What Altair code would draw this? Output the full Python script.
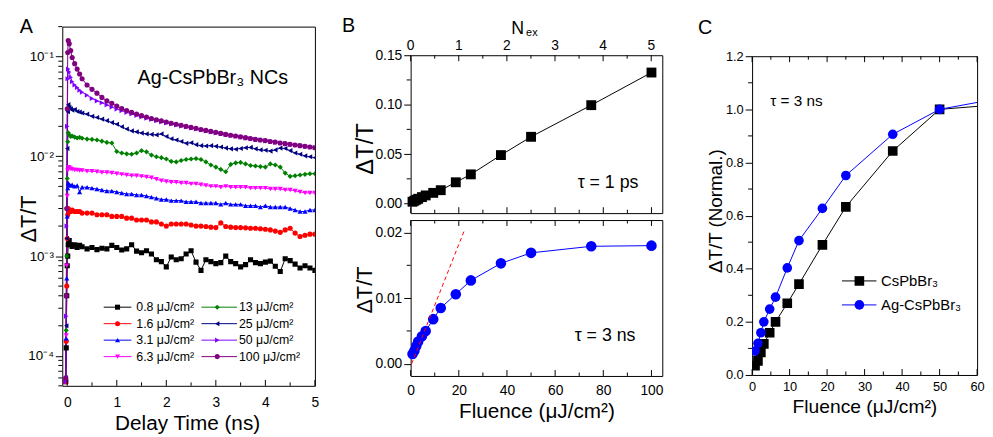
import altair as alt
import pandas as pd

FONT = "Liberation Sans"

# ---------------- Panel A data: transient decays ----------------
t_ns = [-0.03, -0.02, -0.01, 0.0, 0.01, 0.02, 0.04, 0.07, 0.1, 0.15, 0.2, 0.25, 0.3,
        0.4, 0.5, 0.6, 0.7, 0.8, 0.9,
        1.0, 1.1, 1.2, 1.3, 1.4, 1.5, 1.6, 1.7, 1.8, 1.9,
        2.0, 2.1, 2.2, 2.3, 2.4, 2.5, 2.6, 2.7, 2.8, 2.9,
        3.0, 3.1, 3.2, 3.3, 3.4, 3.5, 3.6, 3.7, 3.8, 3.9,
        4.0, 4.1, 4.2, 4.3, 4.4, 4.5, 4.6, 4.7, 4.8, 4.9,
        5.0]

a_0p8 = [5.5e-5, 1.2e-4, 4.0e-4, 8.0e-4, 1.0e-3, 1.30e-3, 1.43e-3, 1.30e-3, 1.25e-3, 1.30e-3, 1.22e-3, 1.28e-3, 1.24e-3,
         1.18e-3, 1.22e-3, 1.16e-3, 1.20e-3, 1.18e-3, 1.28e-3,
         1.22e-3, 1.15e-3, 1.18e-3, 1.30e-3, 1.12e-3, 1.08e-3, 1.13e-3, 1.05e-3, 9.2e-4, 8.8e-4,
         7.8e-4, 9.8e-4, 9.2e-4, 9.4e-4, 1.05e-3, 1.13e-3, 8.7e-4, 7.2e-4, 9.2e-4, 8.8e-4,
         8.4e-4, 8.6e-4, 1.0e-3, 8.8e-4, 8.4e-4, 7.8e-4, 8.2e-4, 9.2e-4, 8.6e-4, 8.4e-4,
         8.7e-4, 8.9e-4, 7.9e-4, 7.0e-4, 9.4e-4, 9.0e-4, 8.3e-4, 7.6e-4, 8.0e-4, 7.6e-4,
         7.2e-4]
a_1p6 = [5.5e-5, 1.4e-4, 5.0e-4, 1.5e-3, 2.6e-3, 3.0e-3, 2.9e-3, 2.8e-3, 2.9e-3, 2.8e-3, 2.8e-3, 2.8e-3, 2.7e-3,
         2.7e-3, 2.7e-3, 2.6e-3, 2.6e-3, 2.6e-3, 2.5e-3,
         2.5e-3, 2.5e-3, 2.4e-3, 2.4e-3, 2.3e-3, 2.3e-3, 2.3e-3, 2.2e-3, 2.2e-3, 2.1e-3,
         2.0e-3, 2.1e-3, 2.1e-3, 2.1e-3, 2.1e-3, 2.05e-3, 2.0e-3, 2.0e-3, 1.98e-3, 1.95e-3,
         1.93e-3, 2.15e-3, 1.98e-3, 1.95e-3, 1.93e-3, 1.93e-3, 1.92e-3, 1.90e-3, 1.90e-3, 1.88e-3,
         1.86e-3, 1.83e-3, 1.78e-3, 1.73e-3, 1.83e-3, 1.90e-3, 1.70e-3, 1.57e-3, 1.62e-3, 1.66e-3,
         1.66e-3]
a_3p1 = [6.0e-5, 1.5e-4, 6.0e-4, 2.5e-3, 4.8e-3, 5.4e-3, 5.2e-3, 5.1e-3, 5.2e-3, 5.0e-3, 5.1e-3, 4.4e-3, 4.9e-3,
         4.9e-3, 4.8e-3, 4.7e-3, 4.6e-3, 4.5e-3, 4.5e-3,
         4.4e-3, 4.3e-3, 4.2e-3, 4.2e-3, 4.1e-3, 4.1e-3, 4.0e-3, 3.9e-3, 3.8e-3, 3.7e-3,
         3.7e-3, 3.6e-3, 3.6e-3, 3.6e-3, 3.5e-3, 3.5e-3, 3.5e-3, 3.4e-3, 3.4e-3, 3.4e-3,
         3.4e-3, 3.3e-3, 3.4e-3, 3.3e-3, 3.3e-3, 3.3e-3, 3.2e-3, 3.2e-3, 3.2e-3, 3.1e-3,
         3.2e-3, 3.1e-3, 3.1e-3, 3.1e-3, 3.1e-3, 3.0e-3, 2.9e-3, 2.8e-3, 2.8e-3, 2.9e-3,
         2.9e-3]
a_6p3 = [5.5e-5, 1.6e-4, 8.0e-4, 4.0e-3, 7.2e-3, 7.8e-3, 7.7e-3, 7.5e-3, 7.4e-3, 7.3e-3, 7.3e-3, 7.2e-3, 7.2e-3,
         7.1e-3, 7.1e-3, 7.0e-3, 6.9e-3, 6.9e-3, 6.8e-3,
         6.7e-3, 6.6e-3, 6.5e-3, 6.4e-3, 6.4e-3, 6.3e-3, 6.2e-3, 6.1e-3, 5.9e-3, 5.7e-3,
         5.6e-3, 5.5e-3, 5.5e-3, 5.4e-3, 5.4e-3, 5.3e-3, 5.3e-3, 5.2e-3, 5.1e-3, 5.0e-3,
         5.0e-3, 4.9e-3, 5.0e-3, 4.9e-3, 4.9e-3, 4.9e-3, 4.9e-3, 4.8e-3, 4.8e-3, 4.8e-3,
         4.8e-3, 4.7e-3, 4.7e-3, 4.7e-3, 4.6e-3, 4.6e-3, 4.5e-3, 4.4e-3, 4.3e-3, 4.3e-3,
         4.3e-3]
a_13 = [6.0e-5, 1.8e-4, 1.0e-3, 6.0e-3, 1.4e-2, 1.72e-2, 1.65e-2, 1.58e-2, 1.60e-2, 1.56e-2, 1.53e-2, 1.55e-2, 1.52e-2,
        1.49e-2, 1.48e-2, 1.46e-2, 1.42e-2, 1.38e-2, 1.36e-2,
        1.12e-2, 1.08e-2, 1.06e-2, 1.05e-2, 1.08e-2, 1.14e-2, 1.11e-2, 1.03e-2, 9.9e-3, 9.7e-3,
        9.4e-3, 8.9e-3, 8.8e-3, 9.1e-3, 9.3e-3, 9.4e-3, 9.5e-3, 9.3e-3, 8.8e-3, 8.2e-3,
        7.8e-3, 7.4e-3, 7.0e-3, 8.3e-3, 8.6e-3, 8.7e-3, 8.4e-3, 8.1e-3, 8.0e-3, 7.9e-3,
        7.8e-3, 8.4e-3, 8.2e-3, 7.8e-3, 6.8e-3, 6.3e-3, 6.4e-3, 6.5e-3, 6.6e-3, 6.7e-3,
        6.7e-3]
a_25 = [6.0e-5, 2.0e-4, 1.5e-3, 1.2e-2, 2.8e-2, 3.3e-2, 3.1e-2, 3.0e-2, 2.9e-2, 2.95e-2, 2.82e-2, 2.78e-2, 2.72e-2,
        2.65e-2, 2.52e-2, 2.45e-2, 2.36e-2, 2.28e-2, 2.18e-2,
        2.10e-2, 1.98e-2, 1.88e-2, 1.80e-2, 1.76e-2, 1.71e-2, 1.68e-2, 1.66e-2, 1.64e-2, 1.68e-2,
        1.58e-2, 1.50e-2, 1.46e-2, 1.41e-2, 1.35e-2, 1.37e-2, 1.31e-2, 1.28e-2, 1.27e-2, 1.28e-2,
        1.26e-2, 1.24e-2, 1.21e-2, 1.19e-2, 1.18e-2, 1.20e-2, 1.22e-2, 1.23e-2, 1.19e-2, 1.16e-2,
        1.15e-2, 1.13e-2, 1.16e-2, 1.21e-2, 1.20e-2, 1.14e-2, 1.08e-2, 1.05e-2, 1.01e-2, 9.9e-3,
        9.7e-3]
a_50 = [5.5e-5, 2.5e-4, 2.0e-3, 2.0e-2, 6.0e-2, 7.5e-2, 7.0e-2, 6.2e-2, 5.6e-2, 5.2e-2, 4.9e-2, 4.6e-2, 4.4e-2,
        4.1e-2, 3.8e-2, 3.6e-2, 3.45e-2, 3.28e-2, 3.12e-2,
        2.98e-2, 2.87e-2, 2.76e-2, 2.66e-2, 2.57e-2, 2.49e-2, 2.41e-2, 2.34e-2, 2.28e-2, 2.22e-2,
        2.16e-2, 2.11e-2, 2.06e-2, 2.01e-2, 1.97e-2, 1.93e-2, 1.88e-2, 1.84e-2, 1.80e-2, 1.76e-2,
        1.72e-2, 1.69e-2, 1.66e-2, 1.62e-2, 1.59e-2, 1.56e-2, 1.53e-2, 1.51e-2, 1.48e-2, 1.46e-2,
        1.43e-2, 1.41e-2, 1.38e-2, 1.36e-2, 1.34e-2, 1.32e-2, 1.30e-2, 1.28e-2, 1.26e-2, 1.24e-2,
        1.23e-2]
a_100 = [6.0e-5, 4.0e-4, 3.0e-3, 3.0e-2, 1.1e-1, 1.45e-1, 1.35e-1, 1.15e-1, 9.8e-2, 8.5e-2, 7.5e-2, 6.7e-2, 6.0e-2,
         5.2e-2, 4.7e-2, 4.3e-2, 3.9e-2, 3.6e-2, 3.4e-2,
         3.2e-2, 3.02e-2, 2.88e-2, 2.76e-2, 2.66e-2, 2.56e-2, 2.48e-2, 2.40e-2, 2.33e-2, 2.27e-2,
         2.21e-2, 2.15e-2, 2.10e-2, 2.05e-2, 2.00e-2, 1.95e-2, 1.91e-2, 1.86e-2, 1.82e-2, 1.78e-2,
         1.74e-2, 1.70e-2, 1.66e-2, 1.63e-2, 1.60e-2, 1.57e-2, 1.54e-2, 1.51e-2, 1.48e-2, 1.46e-2,
         1.44e-2, 1.41e-2, 1.39e-2, 1.36e-2, 1.34e-2, 1.32e-2, 1.30e-2, 1.28e-2, 1.26e-2, 1.24e-2,
         1.22e-2]

series_labels = ["0.8 μJ/cm²", "1.6 μJ/cm²", "3.1 μJ/cm²", "6.3 μJ/cm²",
                 "13 μJ/cm²", "25 μJ/cm²", "50 μJ/cm²", "100 μJ/cm²"]
series_values = [a_0p8, a_1p6, a_3p1, a_6p3, a_13, a_25, a_50, a_100]
series_colors = ["#000000", "#FF0000", "#0000FF", "#FF00FF", "#008000", "#000080", "#8000FF", "#800080"]
series_shapes = ["square", "circle", "triangle-up", "triangle-down", "diamond",
                 "triangle-left", "triangle-right", "circle"]

# ---------------- Panel B data ----------------
fluence = [0.78, 1.56, 2.34, 3.13, 4.69, 6.25, 9.38, 12.5, 18.75, 25.0, 37.5, 50.0, 75.0, 100.0]
dT_1ps = [0.0018, 0.0028, 0.0038, 0.0048, 0.0065, 0.0082, 0.0108, 0.0135, 0.0215, 0.0295,
          0.049, 0.0675, 0.0995, 0.1325]
dT_3ns = [0.0015, 0.0020, 0.0027, 0.0034, 0.0042, 0.0050, 0.0068, 0.0085, 0.0106, 0.0127,
          0.0153, 0.0169, 0.0179, 0.0180]
fit_x = [0.4, 22.5]
fit_y = [0.0, 0.0205]
nex_ticks = [0, 1, 2, 3, 4, 5]

# ---------------- Panel C data ----------------
fluence_c = [0.78, 1.56, 2.34, 3.13, 4.69, 6.25, 9.38, 12.5, 18.75, 25.0, 37.5, 50.0, 75.0]
norm_cspbbr3 = [0.035, 0.053, 0.085, 0.117, 0.159, 0.200, 0.270, 0.342, 0.490, 0.633, 0.843, 1.000, 1.028]
norm_ag = [0.090, 0.119, 0.159, 0.200, 0.248, 0.293, 0.403, 0.506, 0.627, 0.751, 0.906, 1.000, 1.065]
c_labels = ["CsPbBr₃", "Ag-CsPbBr₃"]
c_colors = ["#000000", "#0000FF"]
c_shapes = ["square", "circle"]

# ---------------- layout constants ----------------
WA, HA = 256, 364
WB, HBU, HBL = 255, 160, 158
WC, HC = 228, 323
FL_MAX, NEX_MAX = 104.5, 5.23
MAJ, MIN = 6, 3.5


def steps(lo, hi, step, nd=6):
    n = int(round((hi - lo) / step))
    return [round(lo + i * step, nd) for i in range(n + 1)]


def left_axis(values, size, fmt=None, label_expr=None):
    kw = dict(values=values, tickSize=MAJ + 1, labelFont=FONT, labelFontSize=size,
              labelColor="black", tickColor="black", tickWidth=1, domain=False, grid=False,
              title=None, labelPadding=2, labelFlush=False, labelOverlap=False)
    if fmt:
        kw["format"] = fmt
    if label_expr:
        kw["labelExpr"] = label_expr
    return alt.Axis(**kw)


def bottom_axis(values, size, pad):
    return alt.Axis(values=values, format="d", ticks=False, labelFont=FONT, labelFontSize=size,
                    labelColor="black", domain=False, grid=False, title=None, labelPadding=pad,
                    labelFlush=False, labelOverlap=False)


def txt(text, x, y, size, angle=0, align="center", baseline="middle"):
    kw = dict(font=FONT, fontSize=size, color="black", align=align, baseline=baseline)
    if angle:
        kw["angle"] = angle
    return alt.Chart(pd.DataFrame({"t": [text]})).mark_text(**kw).encode(
        x=alt.value(x), y=alt.value(y), text="t:N")


def xticks(scale, axis, vals, y0, y1):
    return alt.Chart(pd.DataFrame({"v": vals})).mark_rule(color="black", strokeWidth=1).encode(
        x=alt.X("v:Q", scale=scale, axis=axis), y=alt.value(y0), y2=alt.value(y1))


def yticks(scale, axis, vals, x0, x1):
    return alt.Chart(pd.DataFrame({"v": vals})).mark_rule(color="black", strokeWidth=1).encode(
        y=alt.Y("v:Q", scale=scale, axis=axis), x=alt.value(x0), x2=alt.value(x1))


def bbox(x0, x1, y):
    # invisible rule that fixes the outer bounds of a column in the layout
    return alt.Chart(pd.DataFrame({"a": [0]})).mark_rule(strokeOpacity=0, strokeWidth=1).encode(
        x=alt.value(x0), x2=alt.value(x1), y=alt.value(y))


def spacer(w, h):
    return alt.Chart(pd.DataFrame({"a": [0]})).mark_point(opacity=0).encode(
        x=alt.value(0), y=alt.value(0)).properties(
        width=w, height=h, view=alt.ViewBackground(stroke="transparent", strokeWidth=0))


def legend_entry(label, color, shape, x0, x1, mx, tx, y, msize, fsize):
    one = pd.DataFrame({"a": [0]})
    return [
        alt.Chart(one).mark_rule(color=color, strokeWidth=1).encode(
            x=alt.value(x0), x2=alt.value(x1), y=alt.value(y)),
        alt.Chart(one).mark_point(shape=shape, filled=True, size=msize, color=color,
                                  opacity=1).encode(x=alt.value(mx), y=alt.value(y)),
        txt(label, tx, y, fsize, align="left"),
    ]


# ================= Panel A =================
rows = []
for lab, vals in zip(series_labels, series_values):
    for t, v in zip(t_ns, vals):
        rows.append({"t": t, "v": v, "series": lab})
dfA = pd.DataFrame(rows)

xA = alt.Scale(domain=[-0.1, 5.0], nice=False, zero=False)
yA = alt.Scale(type="log", domain=[5e-5, 0.2], nice=False)
col_scale = alt.Scale(domain=series_labels, range=series_colors)
shp_scale = alt.Scale(domain=series_labels, range=series_shapes)

logA_major = [1e-4, 1e-3, 1e-2, 1e-1]
logA_minor = [m * 10.0 ** e for e in range(-5, 0) for m in range(2, 10)
              if 5e-5 * 0.999 <= m * 10.0 ** e <= 0.2 * 1.001]
logA_label = ("datum.value > 0.09 ? '10⁻¹' : datum.value > 0.009 ? '10⁻²' : "
              "datum.value > 0.0009 ? '10⁻³' : '10⁻⁴'")
axXA = bottom_axis(steps(0, 5, 1), 14, 10)
axYA = left_axis(logA_major, 13.5, label_expr=logA_label)

linesA = alt.Chart(dfA).mark_line(strokeWidth=1, clip=True).encode(
    x=alt.X("t:Q", scale=xA, axis=axXA),
    y=alt.Y("v:Q", scale=yA, axis=axYA),
    color=alt.Color("series:N", scale=col_scale, legend=None),
)
pointsA = alt.Chart(dfA).mark_point(filled=True, size=27, opacity=1, clip=True).encode(
    x=alt.X("t:Q", scale=xA, axis=axXA),
    y=alt.Y("v:Q", scale=yA, axis=axYA),
    color=alt.Color("series:N", scale=col_scale, legend=None),
    shape=alt.Shape("series:N", scale=shp_scale, legend=None),
)

legA = []
leg_line_x0 = [42, 141]
leg_line_x1 = [70, 177]
leg_mark_x = [56, 157]
leg_text_x = [75, 179]
for i, (lab, colr, shp) in enumerate(zip(series_labels, series_colors, series_shapes)):
    c, r = i // 4, i % 4
    legA += legend_entry(lab, colr, shp, leg_line_x0[c], leg_line_x1[c], leg_mark_x[c],
                         leg_text_x[c], 284.3 + 16.7 * r, 26, 12.5)

panelA = alt.layer(
    linesA, pointsA,
    xticks(xA, axXA, steps(0, 5, 1), HA, HA - MAJ),
    xticks(xA, axXA, steps(0.5, 4.5, 1), HA, HA - MIN),
    yticks(yA, axYA, logA_minor, 0, -(MIN + 0.5)),
    *legA,
    txt("A", -36.5, 0.5, 20),
    txt("Ag-CsPbBr₃ NCs", 152.5, 52, 20),
    txt("ΔT/T", -34, 195, 22, angle=270),
    txt("Delay Time (ns)", 127, 408.7, 21, baseline="alphabetic"),
    bbox(-54, 268, -15),
).properties(width=WA, height=HA)

# ================= Panel B =================
dfB = pd.DataFrame({"f": fluence, "up": dT_1ps, "lo": dT_3ns})
dfFit = pd.DataFrame({"f": fit_x, "y": fit_y})
xB = alt.Scale(domain=[0, FL_MAX], nice=False, zero=False)
yBu = alt.Scale(domain=[-0.0097, 0.15], nice=False, zero=False)
yBl = alt.Scale(domain=[-0.00186, 0.0219], nice=False, zero=False)

nex_df = pd.DataFrame({"n": nex_ticks})
nex_df["pos"] = nex_df["n"] * FL_MAX / NEX_MAX
nex_df["lab"] = nex_df["n"].astype(str)
nex_minor = [(k + 0.5) * FL_MAX / NEX_MAX for k in nex_ticks[:-1]]

axYBu = left_axis(steps(0, 0.15, 0.05), 14, fmt=".2f")
axYBl = left_axis(steps(0, 0.02, 0.01), 14, fmt=".2f")
axXBl = bottom_axis(steps(0, 100, 20), 14, 8)

B_up = alt.layer(
    alt.Chart(dfB).mark_line(color="black", strokeWidth=1).encode(
        x=alt.X("f:Q", scale=xB, axis=None), y=alt.Y("up:Q", scale=yBu, axis=axYBu)),
    alt.Chart(dfB).mark_point(shape="square", filled=True, size=100, color="black",
                              opacity=1).encode(
        x=alt.X("f:Q", scale=xB, axis=None), y=alt.Y("up:Q", scale=yBu, axis=axYBu)),
    yticks(yBu, axYBu, steps(0.025, 0.125, 0.05), 0, -(MIN + 0.5)),
    xticks(xB, None, steps(0, 100, 20), HBU, HBU - MAJ),
    xticks(xB, None, steps(10, 90, 20), HBU, HBU - MIN),
    xticks(xB, None, list(nex_df["pos"]), 0, MAJ),
    xticks(xB, None, nex_minor, 0, MIN),
    alt.Chart(nex_df).mark_text(font=FONT, fontSize=14, color="black", baseline="middle").encode(
        x=alt.X("pos:Q", scale=xB, axis=None), y=alt.value(-9), text="lab:N"),
    txt("B", -63, -29.5, 20),
    txt("N", 102, -22, 18, align="left", baseline="alphabetic"),
    txt("ex", 117, -19, 11, align="left", baseline="alphabetic"),
    txt("ΔT/T", -45, 95, 24, angle=270),
    txt("τ = 1 ps", 200, 130, 18),
    bbox(-83, 267, 0),
).properties(width=WB, height=HBU)

B_lo = alt.layer(
    alt.Chart(dfB).mark_line(color="#0000FF", strokeWidth=1).encode(
        x=alt.X("f:Q", scale=xB, axis=axXBl), y=alt.Y("lo:Q", scale=yBl, axis=axYBl)),
    alt.Chart(dfB).mark_point(shape="circle", filled=True, size=115, color="#0000FF",
                              opacity=1).encode(
        x=alt.X("f:Q", scale=xB, axis=axXBl), y=alt.Y("lo:Q", scale=yBl, axis=axYBl)),
    alt.Chart(dfFit).mark_line(color="#FF0000", strokeWidth=1, strokeDash=[4, 3]).encode(
        x=alt.X("f:Q", scale=xB, axis=axXBl), y=alt.Y("y:Q", scale=yBl, axis=axYBl)),
    yticks(yBl, axYBl, [0.005, 0.015], 0, -(MIN + 0.5)),
    xticks(xB, axXBl, steps(0, 100, 20), 0, MAJ),
    xticks(xB, axXBl, steps(10, 90, 20), 0, MIN),
    xticks(xB, axXBl, steps(0, 100, 20), HBL, HBL - MAJ),
    xticks(xB, axXBl, steps(10, 90, 20), HBL, HBL - MIN),
    txt("ΔT/T", -46, 71, 22, angle=270),
    txt("τ = 3 ns", 197, 118, 18),
    txt("Fluence (μJ/cm²)", 128, 201, 21, baseline="alphabetic"),
).properties(width=WB, height=HBL)

panelB = alt.vconcat(spacer(WB, 22), B_up, B_lo, spacing=7, bounds="flush")

# ================= Panel C =================
xC = alt.Scale(domain=[0, 60], nice=False, zero=False)
yC = alt.Scale(domain=[0, 1.2], nice=False, zero=False)
axXC = bottom_axis(steps(0, 60, 10), 13, 6)
axYC = left_axis(steps(0, 1.2, 0.2), 13, fmt=".1f")

C_series = []
for lab, vals, colr, shp in zip(c_labels, [norm_cspbbr3, norm_ag], c_colors, c_shapes):
    d = pd.DataFrame({"f": fluence_c, "v": vals})
    C_series.append(alt.Chart(d).mark_line(strokeWidth=1, color=colr, clip=True).encode(
        x=alt.X("f:Q", scale=xC, axis=axXC), y=alt.Y("v:Q", scale=yC, axis=axYC)))
    C_series.append(alt.Chart(d).mark_point(filled=True, size=95, opacity=1, color=colr,
                                            shape=shp, clip=True).encode(
        x=alt.X("f:Q", scale=xC, axis=axXC), y=alt.Y("v:Q", scale=yC, axis=axYC)))

legC = []
for r, (lab, colr, shp) in enumerate(zip(c_labels, c_colors, c_shapes)):
    legC += legend_entry(lab, colr, shp, 91, 126, 108.7, 130.7, 227.7 + 24.3 * r, 95, 15)

C_main = alt.layer(
    *C_series,
    yticks(yC, axYC, steps(0.1, 1.1, 0.2), 0, -(MIN + 0.5)),
    xticks(xC, axXC, steps(0, 60, 10), 0, MAJ),
    xticks(xC, axXC, steps(5, 55, 10), 0, MIN),
    xticks(xC, axXC, steps(0, 60, 10), HC, HC - MAJ),
    xticks(xC, axXC, steps(5, 55, 10), HC, HC - MIN),
    *legC,
    txt("C", -47.5, -28.5, 20),
    txt("τ = 3 ns", 45, 45, 15.5),
    txt("ΔT/T (Normal.)", -37, 157, 19, angle=270),
    txt("Fluence (μJ/cm²)", 114.3, 362, 19.5, baseline="alphabetic"),
    bbox(-77, WC, 0),
).properties(width=WC, height=HC)

panelC = alt.vconcat(spacer(WC, 23), C_main, spacing=7, bounds="flush")

chart = alt.hconcat(panelA, panelB, panelC, spacing=0).properties(
    padding={"left": 0, "top": 0, "right": 0, "bottom": 0}
).configure_view(stroke="black", strokeWidth=1)

chart.save("out.html", embed_options={"renderer": "svg", "actions": False})
